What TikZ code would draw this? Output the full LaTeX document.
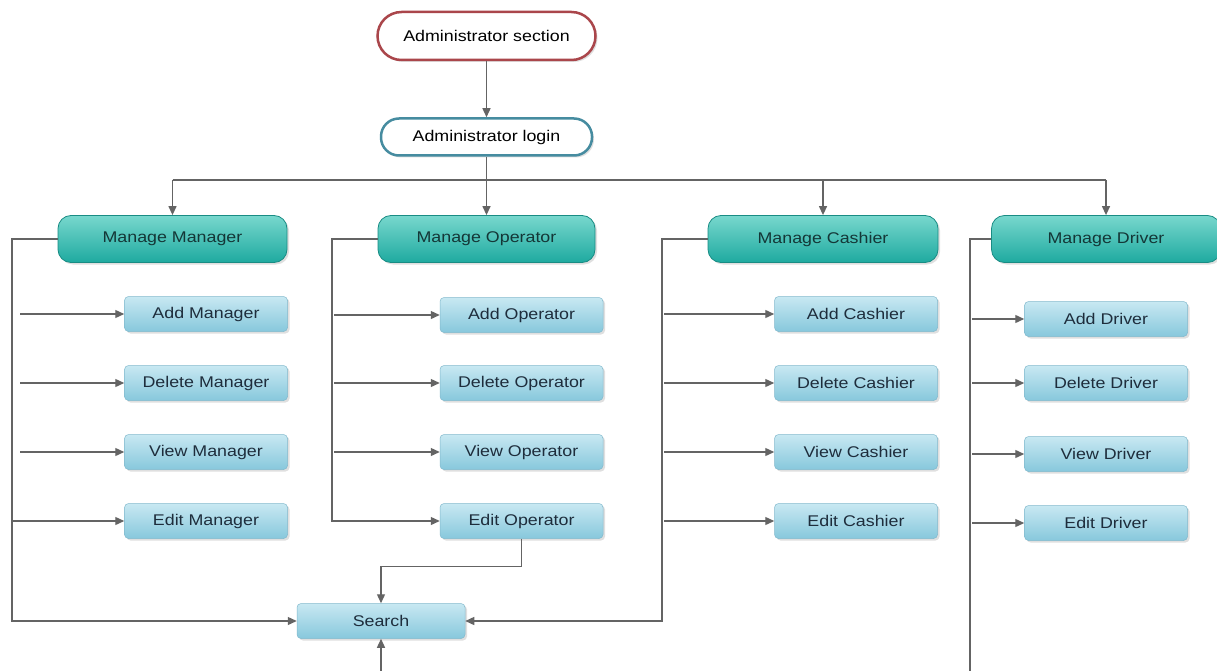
\documentclass[tikz,border=0pt]{standalone}
\usepackage{fontspec}
\setmainfont{Liberation Sans}[FakeStretch=1.15]
\usetikzlibrary{shadows,arrows.meta}
\definecolor{lineg}{RGB}{100,100,100}
\definecolor{secred}{RGB}{170,70,75}
\definecolor{logblue}{RGB}{70,140,160}
\definecolor{tealtop}{RGB}{120,215,205}
\definecolor{tealbot}{RGB}{30,170,160}
\definecolor{tealdraw}{RGB}{25,140,132}
\definecolor{tealtxt}{RGB}{20,55,55}
\definecolor{bluetop}{RGB}{200,232,242}
\definecolor{bluebot}{RGB}{135,200,220}
\definecolor{bluedraw}{RGB}{130,185,205}
\definecolor{subtxt}{RGB}{30,45,60}
\begin{document}
\begin{tikzpicture}[x=1pt,y=-1pt,
  every node/.style={font=\fontsize{15.5}{18}\selectfont, inner sep=0pt},
  conn/.style={draw=lineg, line width=1.3pt},
  arr/.style={conn, -{Triangle[length=9pt,width=8pt]}},
  startbox/.style={rounded corners=24pt, minimum width=218pt, minimum height=48pt, draw=secred, line width=2.5pt, fill=white, drop shadow={opacity=0.25,shadow xshift=2pt,shadow yshift=-2pt}},
  loginbox/.style={rounded corners=18pt, minimum width=211pt, minimum height=37pt, draw=logblue, line width=2.5pt, fill=white, drop shadow={opacity=0.25,shadow xshift=2pt,shadow yshift=-2pt}},
  managebox/.style={rounded corners=13pt, minimum height=47pt, top color=tealtop, bottom color=tealbot, draw=tealdraw, line width=0.8pt, text=tealtxt, drop shadow={opacity=0.25,shadow xshift=2pt,shadow yshift=-2pt}},
  subbox/.style={rounded corners=4pt, minimum width=163pt, minimum height=35pt, top color=bluetop, bottom color=bluebot, draw=bluedraw, line width=0.5pt, text=subtxt, drop shadow={opacity=0.25,shadow xshift=2pt,shadow yshift=-2pt}}
]
\useasboundingbox[fill=white] (0,0) rectangle (1217,671);

\node[startbox] (sec) at (486.5,36) {Administrator section};
\node[loginbox] (login) at (486.5,137) {Administrator login};

\node[managebox, minimum width=229pt] (mm) at (172.5,239) {Manage Manager};
\node[managebox, minimum width=217pt] (mo) at (486.5,239) {Manage Operator};
\node[managebox, minimum width=230pt] (mc) at (823,239) {Manage Cashier};
\node[managebox, minimum width=229pt] (md) at (1106,239) {Manage Driver};

\node[subbox] (am) at (206,314) {Add Manager};
\node[subbox] (dm) at (206,383) {Delete Manager};
\node[subbox] (vm) at (206,452) {View Manager};
\node[subbox] (em) at (206,521) {Edit Manager};

\node[subbox] (ao) at (521.5,315) {Add Operator};
\node[subbox] (do) at (521.5,383) {Delete Operator};
\node[subbox] (vo) at (521.5,452) {View Operator};
\node[subbox] (eo) at (521.5,521) {Edit Operator};

\node[subbox] (ac) at (856,314) {Add Cashier};
\node[subbox] (dc) at (856,383) {Delete Cashier};
\node[subbox] (vc) at (856,452) {View Cashier};
\node[subbox] (ec) at (856,521) {Edit Cashier};

\node[subbox] (ad) at (1106,319) {Add Driver};
\node[subbox] (dd) at (1106,383) {Delete Driver};
\node[subbox] (vd) at (1106,454) {View Driver};
\node[subbox] (ed) at (1106,523) {Edit Driver};

\node[subbox, minimum width=168pt] (search) at (381,621) {Search};

% coordinates
\coordinate (bus1) at (172.5,180);
\coordinate (bus2) at (486.5,180);
\coordinate (bus3) at (823,180);
\coordinate (bus4) at (1106,180);
\coordinate (c1b) at (12,621);
\coordinate (c1e) at (12,521);
\coordinate (c2b) at (332,521);
\coordinate (c3b) at (662,621);
\coordinate (c4b) at (970,671);
\coordinate (sbot) at (381,671);

% top connectors
\draw[arr] (sec) -- (login);
\draw[conn] (login.south) -- (bus2);
\draw[conn] (bus1) -- (bus4);
\draw[arr] (bus1) -- (mm.north);
\draw[arr] (bus2) -- (mo.north);
\draw[arr] (bus3) -- (mc.north);
\draw[arr] (bus4) -- (md.north);

% column 1
\draw[arr] (mm.west) -| (c1b) -- (search.west);
\draw[arr] (20,314) -- (am.west);
\draw[arr] (20,383) -- (dm.west);
\draw[arr] (20,452) -- (vm.west);
\draw[arr] (c1e) -- (em.west);

% column 2
\draw[arr] (mo.west) -| (c2b) -- (eo.west);
\draw[arr] (334,315) -- (ao.west);
\draw[arr] (334,383) -- (do.west);
\draw[arr] (334,452) -- (vo.west);
\draw[arr] (eo.south) -- ++(0,28) -| (search.north);

% column 3
\draw[arr] (mc.west) -| (c3b) -- (search.east);
\draw[arr] (664,314) -- (ac.west);
\draw[arr] (664,383) -- (dc.west);
\draw[arr] (664,452) -- (vc.west);
\draw[arr] (664,521) -- (ec.west);

% column 4
\draw[conn] (md.west) -| (c4b);
\draw[arr] (972,319) -- (ad.west);
\draw[arr] (972,383) -- (dd.west);
\draw[arr] (972,454) -- (vd.west);
\draw[arr] (972,523) -- (ed.west);

% search bottom
\draw[arr] (sbot) -- (search.south);
\end{tikzpicture}
\end{document}
